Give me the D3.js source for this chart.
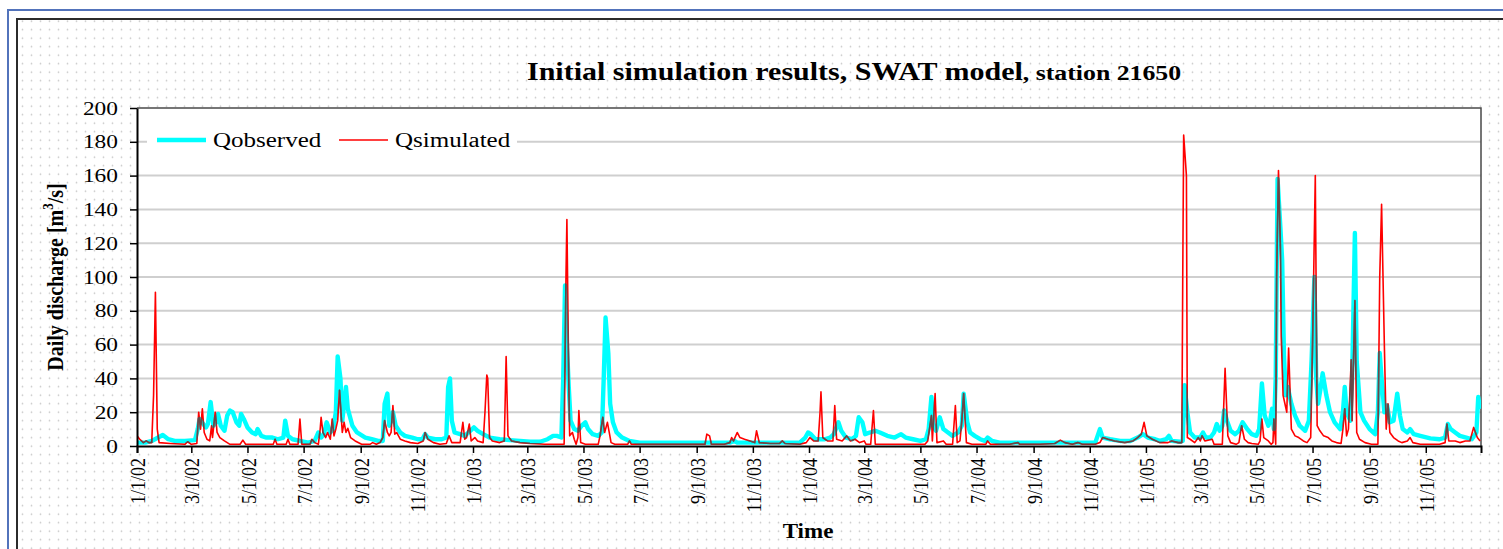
<!DOCTYPE html>
<html><head><meta charset="utf-8">
<script src="https://cdn.jsdelivr.net/npm/d3@7"></script>
<style>body{margin:0;background:#fff}svg{display:block}text{font-family:"Liberation Serif","Times New Roman",serif;fill:#000}</style>
</head><body>
<svg id="c" width="1503" height="549"></svg>
<script>
// ---------- DATA ----------
const startDate = "2002-01-01";
const endDate = "2005-12-31";
const seriesNames = ["Qobserved", "Qsimulated"];
const yTicks = [0, 20, 40, 60, 80, 100, 120, 140, 160, 180, 200];
const xTickLabels = ["1/1/02","3/1/02","5/1/02","7/1/02","9/1/02","11/1/02",
  "1/1/03","3/1/03","5/1/03","7/1/03","9/1/03","11/1/03",
  "1/1/04","3/1/04","5/1/04","7/1/04","9/1/04","11/1/04",
  "1/1/05","3/1/05","5/1/05","7/1/05","9/1/05","11/1/05"];

// day number counted from 1/1/02, and daily discharge [m3/s]
const obsDay = [0,9,16,23,28,34,41,52,63,66,68,72,75,77,80,83,86,88,91,95,98,101,104,108,111,113,116,120,125,129,131,135,140,147,153,159,161,164,169,177,186,193,197,200,203,206,210,213,216,218,221,223,225,227,229,234,239,248,255,262,267,269,272,274,276,278,281,286,291,299,305,310,313,316,324,331,336,338,340,342,345,351,356,362,366,370,376,383,394,405,416,427,438,446,452,456,461,463,465,467,469,471,475,479,483,487,490,495,501,505,507,509,512,514,517,521,527,535,546,557,612,644,649,652,677,709,720,726,729,732,737,747,753,757,762,765,770,777,781,784,788,791,796,802,807,815,823,830,835,843,851,857,860,863,865,868,872,876,881,886,892,896,898,902,905,910,916,921,924,929,937,959,981,1003,1024,1041,1046,1049,1057,1068,1079,1087,1093,1098,1106,1111,1118,1121,1124,1133,1136,1138,1141,1144,1149,1155,1158,1161,1166,1170,1173,1176,1179,1181,1184,1188,1193,1197,1201,1206,1211,1216,1219,1222,1225,1229,1231,1233,1235,1237,1239,1242,1244,1246,1248,1250,1254,1258,1263,1269,1273,1276,1279,1281,1283,1286,1288,1292,1296,1301,1307,1310,1312,1314,1318,1320,1323,1325,1329,1333,1339,1345,1348,1350,1352,1355,1358,1361,1365,1369,1372,1375,1380,1383,1387,1394,1405,1415,1421,1424,1427,1432,1437,1444,1450,1455,1457,1459];
const obsQ = [2,2,3,5,6.5,4,3,3,3.5,10,16,13,11,13,26,12,14,19,12,9,18,21,20,14,12,19,16,11,8,7,10,6,5,5,4,5,15,6,4,3,2,3,8,5,7,14,8,10,20,53,40,15,25,35,22,12,8,5,4,3,3,25,31,12,15,20,12,8,6,5,4,4,7,5,4,4,5,35,40,15,8,7,6,9,11,9,7,5,4,3.5,3,2.5,2.5,4,6,6,5,40,95,60,35,15,10,9,12,14,10,7,6,8,40,76,55,25,14,8,5,3,2,2,2,2,3,2,2,2,2,5,8,7,4,4,5,7,14,9,5,4,6,17,14,7,8,9,8,6,5,7,5,4,3,4,10,29,12,9,17,10,8,6,8,12,31,14,8,6,4,3,5,3,2,2,2,2,2,2,10,5,4,3,3,5,7,5,4,3,4,6,3,2.5,3,36,20,8,5,5,8,5,5,8,13,9,12,21,15,9,7,9,14,10,7,6,10,37,18,12,15,22,10,40,158,130,110,53,30,35,25,18,12,9,15,51,100,40,25,35,43,30,20,14,10,20,35,20,15,40,126,50,20,15,10,7,20,55,40,20,24,14,15,31,18,10,8,10,7,6,4.5,4,5,13,10,8,6,5,4,8,29,22];

const simDay = [0,3,7,10,13,16,18,20,22,24,36,52,55,59,65,67,69,71,73,76,79,81,82,85,87,90,95,101,112,115,118,134,148,150,152,162,164,166,175,177,179,188,190,193,197,199,200,202,205,207,210,212,214,216,218,220,223,225,227,229,232,237,244,253,256,260,264,267,269,272,274,276,278,280,282,286,291,297,305,311,313,316,322,329,336,339,342,351,354,356,358,361,363,367,370,376,378,380,381,383,386,394,399,401,403,407,416,427,443,460,464,466,467,469,470,473,475,477,479,480,482,487,501,503,506,508,511,513,515,519,533,535,537,568,601,617,619,622,624,638,644,646,648,652,655,660,666,671,673,676,688,698,701,704,720,727,731,735,740,742,743,745,750,756,758,760,766,771,775,780,785,790,792,797,800,802,829,856,859,863,864,867,869,876,879,886,889,891,894,896,898,901,907,922,924,927,948,957,959,981,997,1003,1008,1016,1022,1027,1041,1046,1049,1055,1062,1073,1082,1087,1091,1094,1097,1103,1111,1120,1124,1131,1135,1136,1137,1140,1141,1144,1149,1153,1155,1157,1160,1168,1170,1176,1179,1182,1185,1188,1194,1197,1200,1203,1207,1211,1218,1220,1222,1224,1229,1232,1234,1235,1237,1238,1240,1242,1243,1245,1247,1249,1251,1254,1258,1262,1267,1271,1275,1277,1280,1282,1285,1289,1294,1298,1303,1308,1310,1312,1314,1316,1319,1320,1323,1325,1328,1334,1341,1348,1350,1352,1355,1357,1359,1361,1365,1370,1374,1380,1383,1386,1394,1415,1421,1423,1425,1432,1437,1443,1448,1452,1456,1459];
const simQ = [6,4,2,3,2,2,30,91,10,2,1.5,1,2.5,1,1.5,20,10,22,8,4,3,12,5,20,8,5,3,1,1,3.5,1,1,1,4,1,1,4,1,1,16,1,1,4,2,1,10,17,8,5,8,4,16,6,10,15,33,8,14,8,10.5,5,3,1,1,2,1,2,5,15,8,6,8,24,7,8,4,3,2,1.5,3,8,4,2,1,1.5,6,2,2,14,4,5,13,3,5,3,2,20,42,40,5,3,2,3,53,6,3,2,1.5,1,1,1,100,134,40,6,8,4,1,5,21,2,1,1,6,17,8,14,8,2,1,1,3,1,1,1,1,7,6,1,1,2,5,3,8,5,4,3,2,9,2,1.5,1.5,3,1.5,1,2,5,3,3,20,32,5,3,3,24,4,3,6,3,4,2,3,1,1,21,1,1,1,3,18,3,31,2,3,1,1,24,2,3,15,31,2,1,1,3,1,1,2,1,1,1.5,3.5,2,1,2,1,1,2,5,4,3,2,3,5,7,14,6,4,2,2,3,2,2,100,184,160,5,4,2,5,3,6,3,4,1,1,1,46,6,2,1,2,12,4,2,1.5,1,3,16,5,3,1,2,16,1,100,163,120,65,30,25,20,58,10,6,5,3,2,5,60,160,12,9,6,5,3,2,1.5,10,22,6,10,51,15,86,8,4,2,1,1,100,143,60,10,25,8,5,3,2,3,5,2,1,1,2,13,3,3,2,3,3,11,5,3];

// ---------- LAYOUT ----------
const W = 1503, H = 549;
const P = {l: 137, t: 108, r: 1481, b: 446};
const FONT = "Liberation Serif";
const start = d3.timeParse("%Y-%m-%d")(startDate);
const end = d3.timeParse("%Y-%m-%d")(endDate);
const parseTick = d3.timeParse("%m/%d/%y");
const fmtTick = d3.timeFormat("%-m/%-d/%y");
const obs = obsDay.map((d, i) => ({date: d3.timeDay.offset(start, d), q: obsQ[i]}));
const sim = simDay.map((d, i) => ({date: d3.timeDay.offset(start, d), q: simQ[i]}));

const x = d3.scaleTime().domain([start, end]).range([P.l, P.r]);
const y = d3.scaleLinear().domain([0, 200]).range([P.b, P.t]);

const OBS_W = 4.4, SIM_W = 1.6;
const svg = d3.select("#c");
const defs = svg.append("defs");
const pat = defs.append("pattern").attr("id", "dots").attr("patternUnits", "userSpaceOnUse")
  .attr("width", 9).attr("height", 8.5);
pat.append("circle").attr("cx", 4.5).attr("cy", 4.2).attr("r", 0.85).attr("fill", "#c6c6c6");
defs.append("clipPath").attr("id", "clip").append("rect")
  .attr("x", P.l).attr("y", P.t).attr("width", P.r - P.l).attr("height", P.b - P.t);
const line = d3.line().x(d => x(d.date)).y(d => y(d.q));
// mask = area covered by the observed line (used to tint overlaps)
defs.append("mask").attr("id", "obsMask").attr("maskUnits", "userSpaceOnUse")
  .attr("x", 0).attr("y", 0).attr("width", W).attr("height", H)
  .append("path").datum(obs).attr("d", line).attr("fill", "none").attr("stroke", "#fff")
  .attr("stroke-width", OBS_W).attr("stroke-linejoin", "round");

svg.append("rect").attr("width", W).attr("height", H).attr("fill", "#fff");
svg.append("rect").attr("x", 18).attr("y", 20).attr("width", W - 18).attr("height", H - 20).attr("fill", "url(#dots)");
svg.append("path").attr("d", `M8,${H}V10H${W}`).attr("fill", "none").attr("stroke", "#5273bb").attr("stroke-width", 2);
svg.append("path").attr("d", `M17,${H}V19H${W}`).attr("fill", "none").attr("stroke", "#2b2b2b").attr("stroke-width", 2);

// plot area
svg.append("rect").attr("x", P.l).attr("y", P.t).attr("width", P.r - P.l).attr("height", P.b - P.t).attr("fill", "#fff");
svg.append("g").selectAll("line").data(yTicks.filter(v => v > 0 && v < 200)).join("line")
  .attr("x1", P.l).attr("x2", P.r).attr("y1", d => y(d)).attr("y2", d => y(d))
  .attr("stroke", "#cfcfcf").attr("stroke-width", 2);
svg.append("path").attr("d", `M${P.l},${P.t}H${P.r}V${P.b}`).attr("fill", "none").attr("stroke", "#4a4a4a").attr("stroke-width", 1.5);

// lines
const gl = svg.append("g").attr("clip-path", "url(#clip)");
gl.append("path").datum(obs).attr("d", line).attr("fill", "none").attr("stroke", "#00ffff")
  .attr("stroke-width", OBS_W).attr("stroke-linejoin", "round");
gl.append("path").datum(sim).attr("d", line).attr("fill", "none").attr("stroke", "#ff0000")
  .attr("stroke-width", SIM_W).attr("stroke-linejoin", "round");
// overlap of simulated over observed looks dark grey in the reference
gl.append("path").datum(sim).attr("d", line).attr("fill", "none").attr("stroke", "#007878")
  .attr("stroke-opacity", 0.6).attr("stroke-width", SIM_W).attr("stroke-linejoin", "round")
  .attr("mask", "url(#obsMask)");

// y axis
const ya = svg.append("g").attr("transform", `translate(${P.l},0)`)
  .call(d3.axisLeft(y).tickValues(yTicks).tickSize(7).tickSizeOuter(0));
ya.attr("font-family", FONT);
ya.select(".domain").attr("stroke", "#000").attr("stroke-width", 2);
ya.selectAll(".tick line").attr("stroke", "#000").attr("stroke-width", 1.5);
ya.selectAll(".tick text").attr("font-size", 18).attr("font-family", FONT)
  .attr("x", -19 / 1.3).attr("dy", "0.34em").attr("transform", "scale(1.3,1)");

// x axis
const xa = svg.append("g").attr("transform", `translate(0,${P.b})`)
  .call(d3.axisBottom(x).tickValues(xTickLabels.map(parseTick)).tickFormat(fmtTick).tickSize(7).tickSizeOuter(7));
xa.attr("font-family", FONT);
xa.select(".domain").attr("stroke", "#000").attr("stroke-width", 2);
xa.selectAll(".tick line").attr("stroke", "#000").attr("stroke-width", 1.5);
xa.selectAll(".tick text").attr("font-size", 18).attr("font-family", FONT)
  .attr("x", 0).attr("y", 0).attr("dy", "0.35em").attr("text-anchor", "end")
  .attr("transform", "translate(0,12) scale(1.2,1) rotate(-90)");

// axis titles
svg.append("text").attr("transform", "translate(808,538) scale(1.15,1)").attr("text-anchor", "middle")
  .attr("font-family", FONT).attr("font-size", 20).attr("font-weight", "bold").text("Time");
const yt = svg.append("text").attr("transform", "translate(63,277) scale(1.2,1) rotate(-90)")
  .attr("text-anchor", "middle").attr("font-family", FONT).attr("font-size", 20).attr("font-weight", "bold");
yt.append("tspan").text("Daily discharge [m");
yt.append("tspan").attr("font-size", 13).attr("dy", -8).text("3");
yt.append("tspan").attr("dy", 8).text("/s]");

// title
const tt = svg.append("text").attr("transform", "translate(527,80) scale(1.2,1)")
  .attr("font-family", FONT).attr("font-weight", "bold");
tt.append("tspan").attr("font-size", 25).text("Initial simulation results, SWAT model");
tt.append("tspan").attr("font-size", 21.5).text(", station 21650");

// legend
const lg = svg.append("g");
lg.append("rect").attr("x", 147).attr("y", 128).attr("width", 370).attr("height", 26).attr("fill", "#fff");
const legendItems = [
  {name: seriesNames[0], color: "#00ffff", w: OBS_W, x0: 157},
  {name: seriesNames[1], color: "#ff0000", w: SIM_W, x0: 339}
];
legendItems.forEach(it => {
  lg.append("line").attr("x1", it.x0).attr("x2", it.x0 + 49).attr("y1", 140).attr("y2", 140)
    .attr("stroke", it.color).attr("stroke-width", it.w);
  lg.append("text").attr("transform", `translate(${it.x0 + 56},147) scale(1.25,1)`)
    .attr("font-family", FONT).attr("font-size", 20).text(it.name);
});
</script>
</body></html>
